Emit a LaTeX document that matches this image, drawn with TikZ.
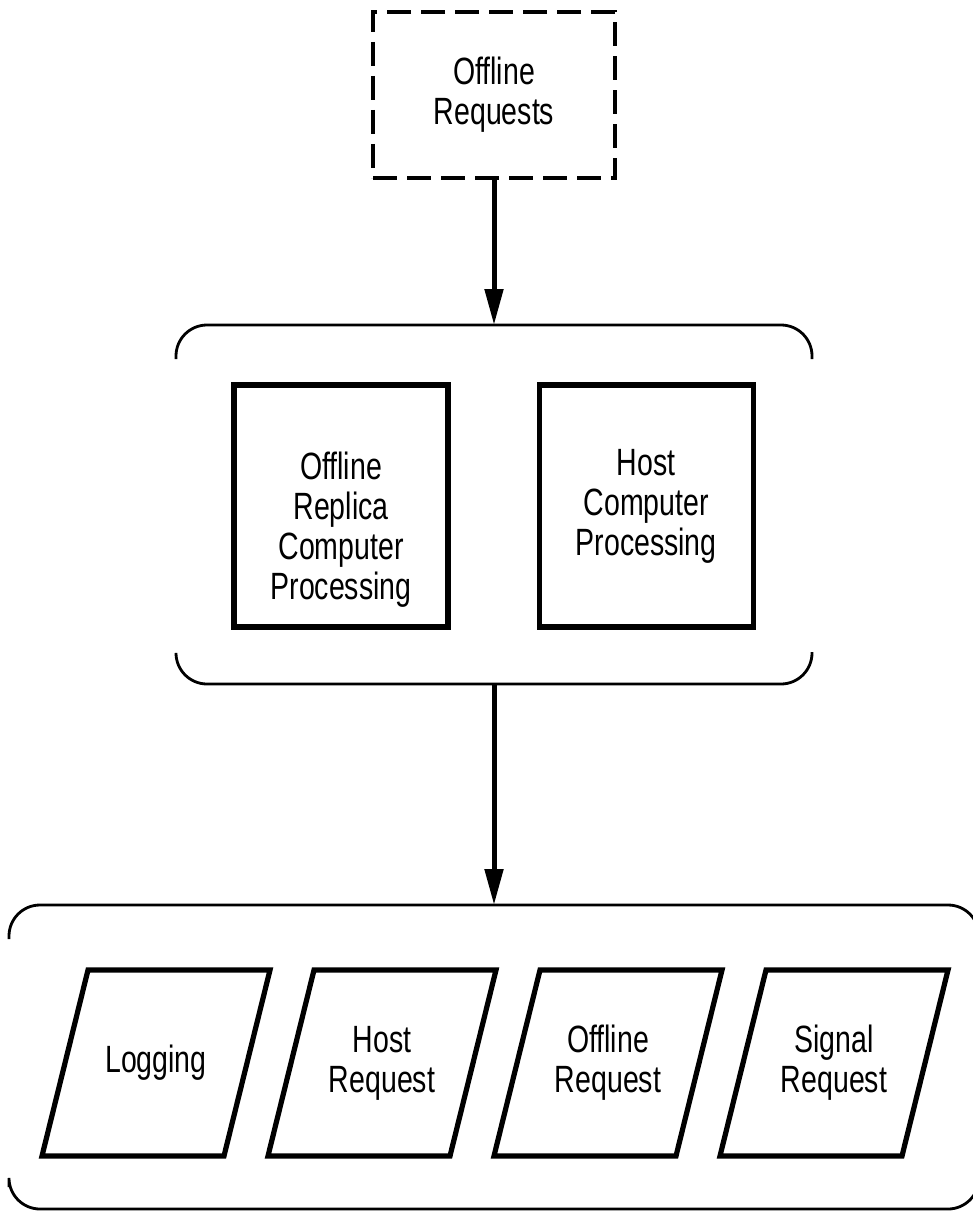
\documentclass[tikz,border=0pt]{standalone}
\usepackage{fontspec}
\setmainfont{Liberation Sans}[FakeStretch=0.75]
\usetikzlibrary{arrows.meta,positioning}

\tikzset{
  txt/.style={font=\fontsize{19pt}{20pt}\selectfont, align=center},
  reqdash/.style={txt, draw, line width=1.6pt, dash pattern=on 12pt off 5pt,
    minimum width=121pt, minimum height=83pt, inner sep=0pt},
  procbox/.style={txt, draw, line width=2.6pt, minimum width=107pt,
    minimum height=121pt, inner sep=0pt},
  kindbox/.style={txt, minimum width=91pt, minimum height=93pt,
    inner sep=0pt, outer sep=0pt},
  slantline/.style={line width=2.6pt},
  grp/.style={minimum width=#1, inner sep=0pt, outer sep=0pt},
  bracket/.style={line width=1.4pt, rounded corners=15.5pt},
  flow/.style={line width=2.5pt, -{Triangle[length=18pt,width=9pt]}}
}

\begin{document}
\begin{tikzpicture}[x=0.5pt,y=-0.5pt]
                              \useasboundingbox (0,0) rectangle (973,1214);

                              % Requests coming in
                              \node[reqdash] (offreq) at (494,95) {Offline\\Requests};

                              % Processing group
                              \node[grp=318pt, minimum height=179.5pt] (proc) at (494,504.5) {};
                              \draw[bracket] ([yshift=-17pt]proc.north west) |- (proc.north)
                              -| ([yshift=-17pt]proc.north east);
                              \draw[bracket] ([yshift=15pt]proc.south west) |- (proc.south)
                              -| ([yshift=16pt]proc.south east);
                              \node[procbox] (replica) at (341,506)
                              {\rule{0pt}{37pt}Offline\\Replica\\Computer\\Processing};
                              \node[procbox, right=43pt of replica] (hostproc) {Host\\Computer\\Processing};

                              % Request kinds group
                              \node[grp=485pt, minimum height=152pt] (kinds) at (494,1057) {};
                              \draw[bracket] ([yshift=-17pt]kinds.north west) |- (kinds.north)
                              -| ([yshift=-17pt]kinds.north east);
                              \draw[bracket] ([yshift=11pt]kinds.south west) |- (kinds.south)
                              -| ([yshift=17pt]kinds.south east);
                              \node[kindbox] (logging) at (156,1063) {Logging};
                              \node[kindbox, right=22pt of logging] (hostreq) {Host\\Request};
                              \node[kindbox, right=22pt of hostreq] (offlreq) {Offline\\Request};
                              \node[kindbox, right=22pt of offlreq] (sigreq) {Signal\\Request};

                              % Slanted outlines
                              \foreach \k in {logging,hostreq,offlreq,sigreq}
                              \draw[slantline] ([xshift=-11.5pt]\k.south west) -- ([xshift=11.5pt]\k.north west)
                              -- ([xshift=11.5pt]\k.north east) -- ([xshift=-11.5pt]\k.south east) -- cycle;

                              % Flow
                              \draw[flow] (offreq) -- (proc);
                              \draw[flow] (proc) -- (kinds);
                        \end{tikzpicture}
\end{document}
